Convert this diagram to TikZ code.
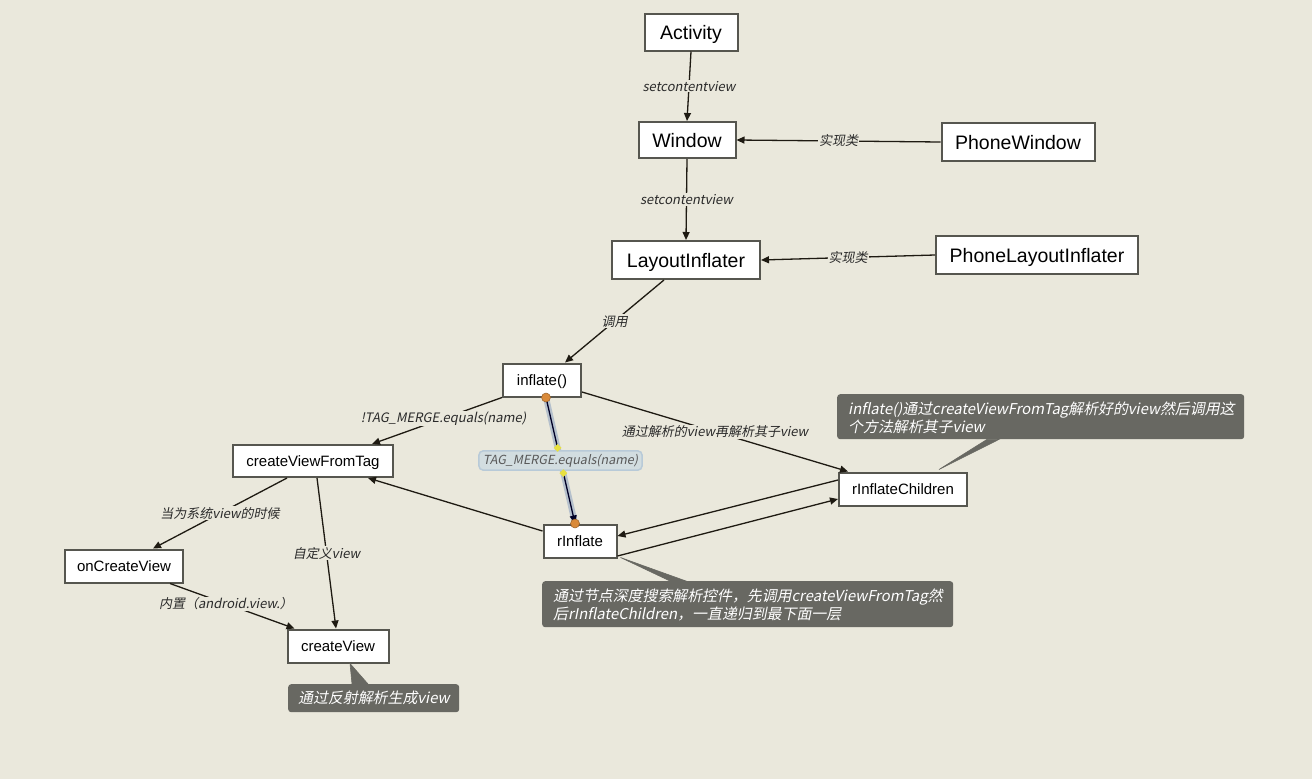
\documentclass[tikz,border=0pt]{standalone}
\usepackage{fontspec}
\setmainfont{Liberation Sans}
\newfontfamily\cjk[FakeSlant=0.2]{Noto Sans CJK SC}
\usetikzlibrary{arrows.meta,calc,shapes.geometric}
\definecolor{bg}{HTML}{EAE8DC}
\definecolor{nodeborder}{HTML}{56564F}
\definecolor{arrcol}{HTML}{1E1A12}
\definecolor{notefill}{HTML}{686862}
\definecolor{labtext}{HTML}{2A2A2A}
\definecolor{hlblue}{HTML}{A8B6C8}
\definecolor{hlfill}{HTML}{D2DDE0}
\definecolor{hlborder}{HTML}{B8CAD8}
\definecolor{orangedot}{HTML}{D98A3A}
\definecolor{yellowdia}{HTML}{E8E040}
\tikzset{
  box/.style={draw=nodeborder, line width=2pt, fill=white, inner sep=0pt,
    text height=12.5pt, text depth=1.7pt, font=\fontsize{15}{17}\selectfont},
  bigbox/.style={box, text height=16pt, text depth=2pt, font=\fontsize{19.5}{22}\selectfont},
  arr/.style={draw=arrcol, line width=1.3pt, -{Triangle[length=8pt,width=7pt]}},
  lab/.style={font=\cjk\fontsize{13}{15}\selectfont, fill=bg, inner sep=1pt, text=labtext},
  notebox/.style={fill=notefill, rounded corners=3pt, inner sep=0pt},
  notetext/.style={text=white, font=\cjk\fontsize{14.9}{18}\selectfont, align=left, inner sep=0pt},
  pointer/.style={fill=notefill, draw=notefill, line width=0.6pt},
}
\begin{document}
\begin{tikzpicture}[x=1pt,y=-1pt]
\useasboundingbox (0,0) rectangle (1312,779);
\fill[bg] (0,0) rectangle (1312,779);

% nodes
\node[bigbox, minimum width=93pt, minimum height=37pt] (act) at (691,32) {Activity};
\node[bigbox, minimum width=97pt, minimum height=36pt] (win) at (687,140) {Window};
\node[bigbox, minimum width=153pt, minimum height=38pt] (pwin) at (1018,142) {PhoneWindow};
\node[bigbox, minimum width=148pt, minimum height=38pt] (li) at (686,260) {LayoutInflater};
\node[bigbox, minimum width=202pt, minimum height=38pt] (pli) at (1037,255) {PhoneLayoutInflater};
\node[box, minimum width=78pt, minimum height=33pt] (inf) at (542,380) {inflate()};
\node[box, minimum width=160pt, minimum height=32pt] (cvft) at (313,461) {createViewFromTag};
\node[box, minimum width=128pt, minimum height=33pt] (ric) at (903,489) {rInflateChildren};
\node[box, minimum width=73pt, minimum height=33pt] (rinf) at (580,541) {rInflate};
\node[box, minimum width=118pt, minimum height=33pt] (ocv) at (124,566) {onCreateView};
\node[box, minimum width=101pt, minimum height=33pt] (cv) at (338,646) {createView};

% notes
\node[notebox, minimum width=407pt, minimum height=45pt, anchor=north west] (n1) at (837,394) {};
\node[notetext, anchor=north west] (n1t) at (848,402)
  {inflate()通过createViewFromTag解析好的view然后调用这\\个方法解析其子view};
\node[notebox, minimum width=411pt, minimum height=46pt, anchor=north west] (n2) at (542,581) {};
\node[notetext, anchor=north west] (n2t) at (553,589)
  {通过节点深度搜索解析控件，先调用createViewFromTag然\\后rInflateChildren，一直递归到最下面一层};
\node[notebox, minimum width=171pt, minimum height=28pt, anchor=north west] (n3) at (288,684) {};
\node[notetext, anchor=west] (n3t) at (298,698) {通过反射解析生成view};

% note pointers
\fill[pointer] ($(ric.north)+(36,-2)$) -- ($(n1.south west)+(150,0)$) -- ($(n1.south west)+(162,0)$) -- cycle;
\fill[pointer] ($(rinf.south east)+(3,-1)$) -- ($(n2.north west)+(128,0)$) -- ($(n2.north west)+(144,0)$) -- cycle;
\fill[pointer] ($(cv.south)+(12,0)$) -- ($(n3.north west)+(64,0)$) -- ($(n3.north west)+(80,0)$) -- cycle;

% edges
\draw[arr] (act.south) -- node[lab]{setcontentview} (win.north);
\draw[arr] (pwin.west) -- node[lab]{实现类} (win.east);
\draw[arr] (win.south) -- node[lab]{setcontentview} (li.north);
\draw[arr] (pli.west) -- node[lab]{实现类} (li.east);
\draw[arr] ($(li.south)+(-22,0)$) -- node[lab]{调用} ($(inf.north)+(23,0)$);
\draw[arr] (inf.south west) -- node[lab, pos=0.45]{!TAG\_MERGE.equals(name)} ($(cvft.north)+(59,0)$);
\draw[arr] ($(inf.east)+(0,12)$) -- node[lab]{通过解析的view再解析其子view} ($(ric.north west)+(10,0)$);
\draw[arr] ($(rinf.west)+(0,-10)$) -- ($(cvft.south)+(55,0)$);
\draw[arr] ($(ric.west)+(0,-9)$) -- ($(rinf.east)+(0,-5)$);
\draw[arr] ($(rinf.east)+(0,15)$) -- ($(ric.west)+(0,10)$);
\draw[arr] ($(cvft.south)+(-26,0)$) -- node[lab]{当为系统view的时候} ($(ocv.north)+(29,0)$);
\draw[arr] ($(cvft.south)+(4,0)$) -- node[lab]{自定义view} ($(cv.north)+(-2,0)$);
\draw[arr] ($(ocv.south)+(46,0)$) -- node[lab, pos=0.45]{内置（android.view.）} ($(cv.north west)+(8,0)$);

% highlighted edge
\coordinate (e7s) at ($(inf.south)+(4,0)$);
\coordinate (e7e) at ($(rinf.north)+(-5,0)$);
\draw[hlblue, line width=6pt, opacity=0.8] (e7s) -- (e7e);
\draw[arr, draw=black!85!blue] (e7s) -- (e7e);
\node[fill=hlfill, draw=hlborder, line width=1.5pt, rounded corners=4pt, inner xsep=4pt, inner ysep=3pt,
  text=black!65, font=\cjk\fontsize{12.5}{14}\selectfont] (tmlab) at ($(e7s)!0.5!(e7e)$) {TAG\_MERGE.equals(name)};
\node[diamond, fill=yellowdia, inner sep=0pt, minimum size=8pt] (d1) at ($(e7s)!0.40!(e7e)$) {};
\node[diamond, fill=yellowdia, inner sep=0pt, minimum size=8pt] (d2) at ($(e7s)!0.60!(e7e)$) {};
\node[circle, fill=orangedot, draw=orangedot!70!black, line width=0.5pt, inner sep=0pt, minimum size=9pt] (o1) at (e7s) {};
\node[circle, fill=orangedot, draw=orangedot!70!black, line width=0.5pt, inner sep=0pt, minimum size=9pt] (o2) at (e7e) {};
\end{tikzpicture}
\end{document}
